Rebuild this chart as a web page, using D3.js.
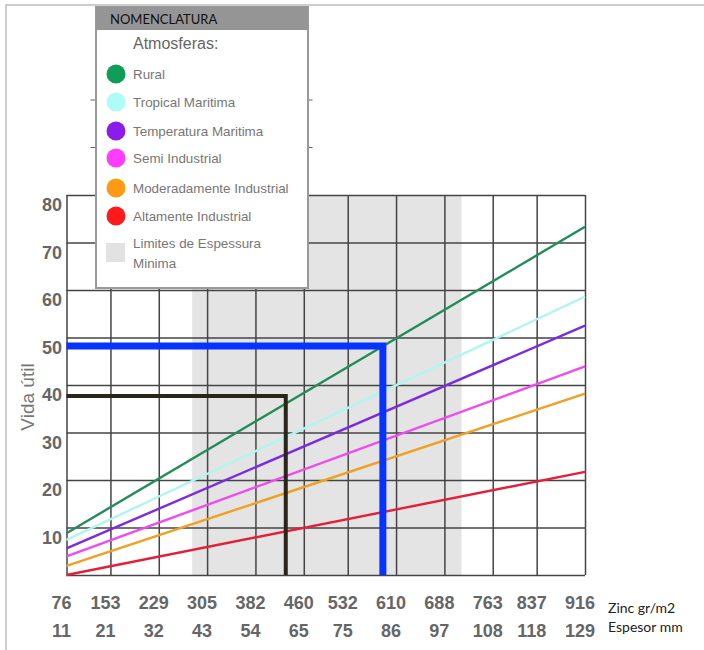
<!DOCTYPE html>
<html>
<head>
<meta charset="utf-8">
<script src="https://cdn.jsdelivr.net/npm/d3@7"></script>
<style>
body { margin: 0; background: #fff; }
</style>
</head>
<body>
<script>

// thickness in mm (bottom row) and zinc g/m2 (upper row), one per gridline
var espesor = [11, 21, 32, 43, 54, 65, 75, 86, 97, 108, 118, 129];
var zinc = [76, 153, 229, 305, 382, 460, 532, 610, 688, 763, 837, 916];
var vidaTicks = [0, 10, 20, 30, 40, 50, 60, 70, 80];

var atmosferas = ["Rural", "Tropical Maritima", "Temperatura Maritima", "Semi Industrial", "Moderadamente Industrial", "Altamente Industrial"];
// vida util (years) at 11 mm and at 129 mm
var vidaInicio = [8.8, 7.4, 5.6, 3.9, 1.9, 0.0];
var vidaFin = [73.3, 58.6, 52.5, 43.9, 38.2, 21.7];

var limites = [39.6, 100.9];           // limites de espessura minima (mm)
var seleccionAzul = [83.0, 48.2];      // [espesor, vida]
var seleccionNegra = [60.9, 37.7];

var lineColors = ["#228c5a", "#b2f5ee", "#7b2ce0", "#f04af0", "#f0a022", "#e2203a"];
var dotColors = ["#0f9d58", "#aefcf6", "#8a1ee8", "#ff3cff", "#ff9a12", "#ff1a1a"];

var margin = {top: 195, right: 119, bottom: 75, left: 66.5};
var width = 704 - margin.left - margin.right,
	height = 650 - margin.top - margin.bottom;

var svg = d3.select("body").append("svg")
	.attr("width", 704)
	.attr("height", 650);

// page frame (top + left only)
svg.append("path")
	.attr("d", "M6,650V5H704")
	.attr("fill", "none")
	.attr("stroke", "#bdbdbd")
	.attr("stroke-width", 1.5);

var features = svg.append("g").attr("transform", "translate(" + margin.left + "," + margin.top + ")");

var x = d3.scaleLinear().domain([11, 129]).range([0, width]);
var y = d3.scaleLinear().domain([0, 80]).range([height, 0]);

features.append("rect")
	.attr("x", x(limites[0]))
	.attr("width", x(limites[1]) - x(limites[0]))
	.attr("y", 0)
	.attr("height", height)
	.attr("fill", "#e4e4e4");

// grid
var yGrid = features.append("g")
	.call(d3.axisLeft(y).tickValues(vidaTicks).tickSize(-width).tickFormat(function(d) { return d === 0 ? "" : d; }))
	.attr("font-family", "'Liberation Sans', Arial, sans-serif")
	.attr("font-size", 18)
	.attr("font-weight", "bold");
yGrid.select(".domain").remove();
yGrid.selectAll("line").attr("stroke", "#444").attr("stroke-width", 1.5);
yGrid.selectAll("text").attr("x", -4.5).attr("y", 10).attr("fill", "#666");

var xGrid = features.append("g")
	.attr("transform", "translate(0," + height + ")")
	.call(d3.axisBottom(x).tickValues(espesor).tickSize(-height).tickFormat(""));
xGrid.select(".domain").remove();
xGrid.selectAll("line").attr("stroke", "#444").attr("stroke-width", 1.5);

// stubs of the hidden upper gridlines peeking out beside the legend
features.selectAll(".stub")
	.data([90, 100])
	.enter().append("line")
	.attr("class", "stub")
	.attr("x1", 24).attr("x2", 246)
	.attr("y1", function(d) { return y(d); })
	.attr("y2", function(d) { return y(d); })
	.attr("stroke", "#666")
	.attr("stroke-width", 1.2);

// x labels
var labelFont = "'Liberation Sans', Arial, sans-serif";
features.selectAll(".zincLabel")
	.data(zinc)
	.enter().append("text")
	.attr("class", "zincLabel")
	.attr("x", function(d, i) { return x(espesor[i]) - 5; })
	.attr("y", height + 28)
	.attr("dy", "0.35em")
	.attr("text-anchor", "middle")
	.attr("font-family", labelFont)
	.attr("font-size", 18)
	.attr("font-weight", "bold")
	.attr("fill", "#666")
	.text(function(d) { return d; });

features.selectAll(".espLabel")
	.data(espesor)
	.enter().append("text")
	.attr("class", "espLabel")
	.attr("x", function(d) { return x(d) - 5; })
	.attr("y", height + 56)
	.attr("dy", "0.35em")
	.attr("text-anchor", "middle")
	.attr("font-family", labelFont)
	.attr("font-size", 18)
	.attr("font-weight", "bold")
	.attr("fill", "#666")
	.text(function(d) { return d; });

svg.append("text")
	.attr("x", 608)
	.attr("y", 608)
	.attr("dy", "0.35em")
	.attr("font-family", "Lato, sans-serif")
	.attr("font-size", 14)
	.attr("fill", "#222")
	.text("Zinc gr/m2");

svg.append("text")
	.attr("x", 608)
	.attr("y", 627)
	.attr("dy", "0.35em")
	.attr("font-family", "Lato, sans-serif")
	.attr("font-size", 14)
	.attr("fill", "#222")
	.text("Espesor mm");

svg.append("text")
	.attr("transform", "translate(27,397) rotate(-90)")
	.attr("text-anchor", "middle")
	.attr("dy", "0.35em")
	.attr("font-family", labelFont)
	.attr("font-size", 19)
	.attr("fill", "#777")
	.text("Vida útil");

// series
var line = d3.line()
	.x(function(d) { return x(d[0]); })
	.y(function(d) { return y(d[1]); });

features.selectAll(".serie")
	.data(atmosferas)
	.enter().append("path")
	.attr("class", "serie")
	.attr("d", function(d, i) { return line([[espesor[0], vidaInicio[i]], [espesor[espesor.length - 1], vidaFin[i]]]); })
	.attr("fill", "none")
	.attr("stroke", function(d, i) { return lineColors[i]; })
	.attr("stroke-width", 2.4);

// reading lines
features.append("path")
	.attr("d", line([[espesor[0], seleccionNegra[1]], seleccionNegra, [seleccionNegra[0], 0]]))
	.attr("fill", "none")
	.attr("stroke", "#2b2518")
	.attr("stroke-width", 4);

features.append("path")
	.attr("d", line([[espesor[0], seleccionAzul[1]], seleccionAzul, [seleccionAzul[0], 0]]))
	.attr("fill", "none")
	.attr("stroke", "#0633ff")
	.attr("stroke-width", 7);

// legend
var legend = svg.append("g").attr("transform", "translate(96,7)");

legend.append("rect")
	.attr("width", 212)
	.attr("height", 281)
	.attr("fill", "#fff")
	.attr("stroke", "#999")
	.attr("stroke-width", 2);

legend.append("rect")
	.attr("width", 212)
	.attr("height", 23)
	.attr("fill", "#959595");

legend.append("text")
	.attr("x", 14)
	.attr("y", 12)
	.attr("dy", "0.35em")
	.attr("font-family", "Lato, sans-serif")
	.attr("font-size", 13)
	.attr("fill", "#111")
	.text("NOMENCLATURA");

legend.append("text")
	.attr("x", 37)
	.attr("y", 36)
	.attr("dy", "0.35em")
	.attr("font-family", labelFont)
	.attr("font-size", 16)
	.attr("fill", "#666")
	.text("Atmosferas:");

var itemY = [67, 95, 124, 151, 181, 209];

var item = legend.selectAll(".item")
	.data(atmosferas)
	.enter().append("g")
	.attr("class", "item")
	.attr("transform", function(d, i) { return "translate(0," + itemY[i] + ")"; });

item.append("circle")
	.attr("cx", 20)
	.attr("r", 9.5)
	.attr("fill", function(d, i) { return dotColors[i]; });

item.append("text")
	.attr("x", 37)
	.attr("dy", "0.35em")
	.attr("font-family", labelFont)
	.attr("font-size", 13.4)
	.attr("fill", "#777")
	.text(function(d) { return d; });

legend.append("rect")
	.attr("x", 10)
	.attr("y", 236)
	.attr("width", 19)
	.attr("height", 19)
	.attr("fill", "#e2e2e2");

legend.selectAll(".lim")
	.data(["Limites de Espessura", "Minima"])
	.enter().append("text")
	.attr("class", "lim")
	.attr("x", 37)
	.attr("y", function(d, i) { return 236 + i * 20; })
	.attr("dy", "0.35em")
	.attr("font-family", labelFont)
	.attr("font-size", 13.4)
	.attr("fill", "#777")
	.text(function(d) { return d; });

</script>
</body>
</html>
